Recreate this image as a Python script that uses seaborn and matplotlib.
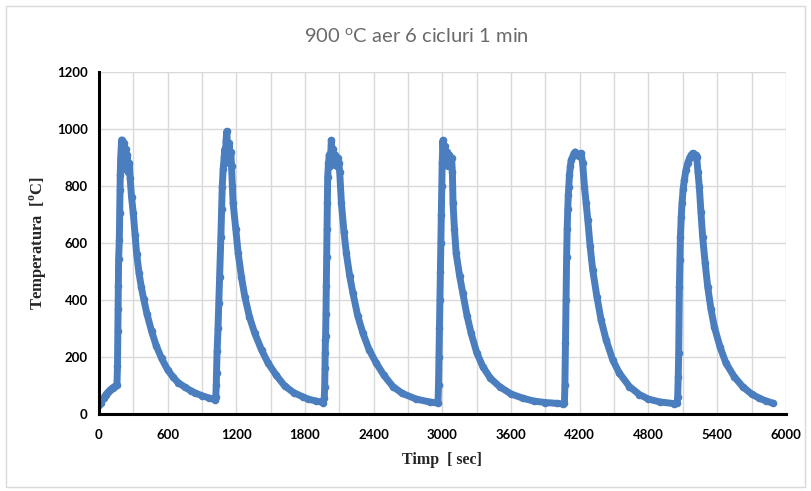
import matplotlib.pyplot as plt
import matplotlib.patches as patches
import numpy as np
import pandas as pd
import seaborn as sns

# values (time in s, temperature in degC), one list pair per cycle
t_c1 = [0, 20, 40, 60, 80, 100, 120, 140, 157, 162, 165, 167, 169, 172, 178, 181, 183, 186,
        190, 198, 205, 212, 218, 225, 232, 240, 248, 256, 265, 272, 285, 300, 315, 329, 350,
        370, 390, 420, 460, 500, 547, 600, 650, 692, 750, 800, 838, 900, 960, 1012]
T_c1 = [32, 40, 55, 68, 77, 85, 92, 97, 100, 170, 290, 370, 450, 545, 610, 704, 786, 840,
        900, 962, 940, 880, 950, 860, 930, 870, 910, 850, 880, 830, 760, 704, 630, 563, 495,
        445, 405, 350, 290, 240, 195, 155, 128, 110, 94, 82, 74, 64, 56, 50]

t_c2 = [1020, 1025, 1027, 1032, 1040, 1047, 1055, 1065, 1072, 1077, 1085, 1094, 1100, 1105,
        1110, 1117, 1123, 1130, 1137, 1145, 1152, 1158, 1165, 1172, 1195, 1216, 1245, 1274,
        1315, 1361, 1420, 1478, 1550, 1623, 1700, 1780, 1827, 1900, 1958]
T_c2 = [60, 100, 143, 220, 300, 389, 480, 622, 720, 798, 860, 903, 930, 880,
        960, 992, 940, 890, 950, 880, 920, 870, 800, 739, 650, 564, 480, 412,
        340, 283, 225, 178, 135, 98, 75, 60, 52, 45, 40]

t_c3 = [1968, 1972, 1974, 1976, 1978, 1980, 1983, 1986, 1989, 1992, 1995, 1998, 2005, 2012,
        2020, 2030, 2038, 2045, 2055, 2065, 2075, 2085, 2095, 2103, 2118, 2140, 2161, 2190,
        2219, 2260, 2306, 2360, 2423, 2490, 2568, 2650, 2772, 2888, 2961]
T_c3 = [56, 96, 160, 213, 260, 275, 350, 450, 550, 650, 740, 833, 880, 910,
        870, 961, 900, 930, 880, 910, 870, 900, 880, 850, 739, 640, 564, 485,
        423, 345, 283, 225, 178, 135, 96, 72, 52, 42, 38]

t_c4 = [2966, 2970, 2974, 2978, 2982, 2986, 2990, 2994, 2998, 3005, 3012, 3020, 3030, 3040,
        3050, 3060, 3070, 3080, 3087, 3093, 3105, 3120, 3150, 3179, 3215, 3251, 3300, 3353,
        3420, 3499, 3600, 3703, 3800, 3900, 4000, 4052]
T_c4 = [100, 200, 300, 400, 500, 600, 700, 800, 880, 961, 900, 940, 880, 920,
        870, 910, 880, 900, 850, 739, 650, 564, 485, 423, 345, 283, 215, 166,
        125, 96, 70, 55, 45, 40, 37, 35]

t_c5 = [4066, 4070, 4075, 4080, 4085, 4090, 4095, 4100, 4104, 4110, 4118, 4125, 4140, 4150,
        4160, 4175, 4190, 4200, 4212, 4225, 4241, 4255, 4270, 4290, 4313, 4350, 4386, 4430,
        4488, 4546, 4634, 4721, 4800, 4900, 5026]
T_c5 = [40, 100, 250, 400, 550, 650, 720, 770, 798, 840, 870, 891, 905, 915,
        920, 910, 905, 912, 915, 880, 798, 740, 681, 590, 505, 410, 330, 260,
        189, 143, 96, 68, 52, 42, 36]

t_c6 = [5050, 5055, 5060, 5064, 5070, 5075, 5079, 5086, 5093, 5103, 5113, 5127, 5142, 5160,
        5175, 5186, 5200, 5212, 5221, 5232, 5244, 5258, 5273, 5295, 5317, 5345, 5375, 5425,
        5477, 5550, 5622, 5700, 5768, 5830, 5884]
T_c6 = [37, 60, 130, 213, 447, 540, 622, 690, 739, 790, 821, 855, 880, 900,
        910, 915, 905, 910, 903, 850, 798, 710, 622, 530, 447, 370, 306, 235,
        178, 130, 96, 70, 55, 45, 38]

x_ticks = list(range(0, 6001, 600))
y_ticks = list(range(0, 1201, 200))

df = pd.DataFrame({
    't': t_c1 + t_c2 + t_c3 + t_c4 + t_c5 + t_c6,
    'T': T_c1 + T_c2 + T_c3 + T_c4 + T_c5 + T_c6,
})

sns.set_theme(style='white')
plt.rcParams['font.family'] = ['Lato', 'DejaVu Sans']
plt.rcParams['mathtext.fontset'] = 'custom'
plt.rcParams['mathtext.rm'] = 'Lato'
plt.rcParams['mathtext.bf'] = 'Liberation Serif:bold'

blue = '#4a7ebf'
grid_col = '#d9d9d9'

fig = plt.figure(figsize=(8.11, 4.91), dpi=100)
ax = fig.add_axes([0.122, 0.157, 0.847, 0.696])

sns.lineplot(data=df, x='t', y='T', sort=False, estimator=None, color=blue,
             linewidth=5, ax=ax)
sns.scatterplot(data=df, x='t', y='T', color=blue, s=30, linewidth=0, ax=ax)

ax.set_xlim(0, 6000)
ax.set_ylim(0, 1200)
ax.set_xticks(x_ticks)
ax.set_xticks(range(0, 6001, 300), minor=True)
ax.set_yticks(y_ticks)
ax.grid(which='both', color=grid_col, linewidth=1)
ax.set_axisbelow(True)
ax.tick_params(which='both', length=0)
ax.tick_params(axis='x', pad=11)
ax.tick_params(axis='y', pad=8)
for lab in ax.get_xticklabels() + ax.get_yticklabels():
    lab.set_fontweight('bold')
    lab.set_fontsize(9.5)
    lab.set_color('black')

for s in ['top', 'right']:
    ax.spines[s].set_visible(False)
for s in ['left', 'bottom']:
    ax.spines[s].set_color('black')
    ax.spines[s].set_linewidth(2.2)

ax.set_xlabel('Timp  [ sec]', family='Liberation Serif', fontweight='bold',
              fontsize=11.5, labelpad=8)
ax.set_ylabel(r'Temperatura  [$^{\mathbf{o}}$C]', family='Liberation Serif',
              fontweight='bold', fontsize=12, labelpad=6)

fig.text(0.513, 0.925, r'900 $^{\mathrm{o}}$C aer 6 cicluri 1 min', ha='center',
         va='center', fontsize=14.5, color='#6a6a6a')

fig.patches.append(patches.Rectangle((0.007, 0.008), 0.986, 0.98, transform=fig.transFigure,
                                     fill=False, edgecolor=grid_col, linewidth=1))

fig.savefig('out.png', dpi=100)
